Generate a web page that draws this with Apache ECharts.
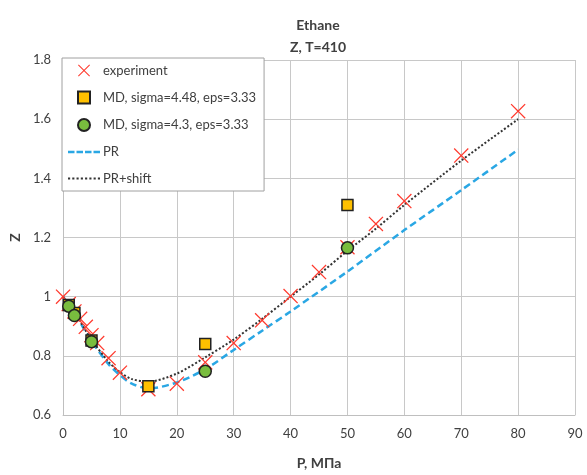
<!DOCTYPE html>
<html><head><meta charset="utf-8">
<script src="https://cdn.jsdelivr.net/npm/echarts@6/dist/echarts.min.js"></script>
<style>html,body{margin:0;padding:0;background:#fff}#c{width:587px;height:475px}</style>
</head><body><div id="c"></div>
<script>
// Data
var expP = [0, 1, 2, 3, 4, 5, 6, 8, 10, 15, 20, 25, 30, 35, 40, 45, 50, 55, 60, 70, 80];
var expZ = [1.0, 0.975, 0.95, 0.925, 0.898, 0.87, 0.843, 0.792, 0.743, 0.687, 0.706, 0.778, 0.843, 0.92, 1.002, 1.083, 1.167, 1.246, 1.323, 1.477, 1.627];
var md448P = [1, 2, 5, 15, 25, 50];
var md448Z = [0.972, 0.945, 0.852, 0.697, 0.84, 1.31];
var md43P = [1, 2, 5, 25, 50];
var md43Z = [0.968, 0.936, 0.848, 0.748, 1.165];
var prP = [0, 2, 5, 8, 10, 12, 15, 20, 25, 30, 35, 40, 50, 60, 70, 80];
var prZ = [1.0, 0.945, 0.85, 0.772, 0.735, 0.707, 0.69, 0.71, 0.755, 0.82, 0.885, 0.95, 1.085, 1.225, 1.36, 1.497];
var prsP = [0, 2, 5, 8, 10, 12, 15, 20, 25, 30, 35, 40, 45, 50, 55, 60, 70, 80];
var prsZ = [1.0, 0.947, 0.855, 0.78, 0.745, 0.722, 0.713, 0.74, 0.795, 0.855, 0.925, 1.0, 1.075, 1.155, 1.23, 1.31, 1.46, 1.6];
var xTicks = [0, 10, 20, 30, 40, 50, 60, 70, 80, 90];
var yTicks = [0.6, 0.8, 1.0, 1.2, 1.4, 1.6, 1.8];
var names = ['experiment', 'MD, sigma=4.48, eps=3.33', 'MD, sigma=4.3, eps=3.33', 'PR', 'PR+shift'];

function pairs(a, b) { return a.map(function (v, i) { return [v, b[i]]; }); }
var FONT = 'Lato';
var crossPath = 'path://M0,1.2L1.2,0L10,8.8L18.8,0L20,1.2L11.2,10L20,18.8L18.8,20L10,11.2L1.2,20L0,18.8L8.8,10Z';
var squarePath = 'path://M0,0H10V10H0Z';
var dashIcon = 'path://M0,0h6.5v2.6h-6.5Z M8.5,0h6.5v2.6h-6.5Z M17,0h6.5v2.6h-6.5Z M25.5,0h6.5v2.6h-6.5Z';
var dotIcon = 'path://M0,0h2v2h-2Z M4,0h2v2h-2Z M8,0h2v2h-2Z M12,0h2v2h-2Z M16,0h2v2h-2Z M20,0h2v2h-2Z M24,0h2v2h-2Z M28,0h2v2h-2Z';

var chart = echarts.init(document.getElementById('c'), null, { renderer: 'canvas' });
chart.setOption({
  animation: false,
  backgroundColor: '#fff',
  textStyle: { fontFamily: FONT },
  graphic: [
    { type: 'text', x: 318, y: 18, style: { text: 'Ethane', textAlign: 'center', font: 'bold 14px ' + FONT, fill: '#404040' } },
    { type: 'text', x: 318, y: 40, style: { text: 'Z, T=410', textAlign: 'center', font: 'bold 14px ' + FONT, fill: '#404040' } }
  ],
  grid: { left: 62, right: 12, top: 60, bottom: 57, containLabel: false },
  legend: {
    orient: 'vertical', left: 62, top: 58,
    backgroundColor: '#fff', borderColor: '#a0a0a0', borderWidth: 1,
    padding: [6, 8, 6, 6], itemGap: 13.5, itemWidth: 32, itemHeight: 12,
    textStyle: { fontFamily: FONT, fontSize: 13, color: '#404040', padding: [0, 0, 0, -2] },
    data: [
      { name: names[0] },
      { name: names[1] },
      { name: names[2] },
      { name: names[3], icon: dashIcon },
      { name: names[4], icon: dotIcon }
    ], z: 10
  },
  xAxis: {
    type: 'value', min: 0, max: 90, interval: 10,
    name: 'P, МПа', nameLocation: 'middle', nameGap: 41,
    nameTextStyle: { fontFamily: FONT, fontWeight: 'bold', fontSize: 14, color: '#404040' },
    axisLine: { show: true, lineStyle: { color: '#bfbfbf' } },
    axisTick: { show: false },
    axisLabel: { fontFamily: FONT, fontSize: 13, color: '#404040', margin: 12,
      formatter: function (v) { return xTicks.indexOf(v) >= 0 ? String(v) : ''; } },
    splitLine: { show: true, lineStyle: { color: '#c8c8c8', width: 1 } }
  },
  yAxis: {
    type: 'value', min: 0.6, max: 1.8, interval: 0.2,
    name: 'Z', nameLocation: 'middle', nameGap: 36, nameRotate: 90,
    nameTextStyle: { fontFamily: FONT, fontWeight: 'bold', fontSize: 14, color: '#404040' },
    axisLine: { show: true, lineStyle: { color: '#bfbfbf' } },
    axisTick: { show: false },
    axisLabel: { fontFamily: FONT, fontSize: 13, color: '#404040', margin: 12,
      formatter: function (v) { var r = Math.round(v * 10) / 10; return String(r); } },
    splitLine: { show: true, lineStyle: { color: '#c8c8c8', width: 1 } }
  },
  series: [
    { name: names[0], type: 'scatter', data: pairs(expP, expZ), symbol: crossPath, symbolSize: 15,
      itemStyle: { color: '#ff3a2e', opacity: 1 }, z: 3 },
    { name: names[1], type: 'scatter', data: pairs(md448P, md448Z), symbol: squarePath, symbolSize: 11,
      itemStyle: { color: '#ffc000', borderColor: '#222', borderWidth: 1.5, opacity: 1 }, z: 4 },
    { name: names[2], type: 'scatter', data: pairs(md43P, md43Z), symbol: 'circle', symbolSize: 12,
      itemStyle: { color: '#79bd3e', borderColor: '#222', borderWidth: 1.5, opacity: 1 }, z: 5 },
    { name: names[3], type: 'line', data: pairs(prP, prZ), symbol: 'none', smooth: 0.3,
      itemStyle: { color: '#2aa7e4' },
      lineStyle: { color: '#2aa7e4', width: 2.5, type: [7, 4] }, z: 2 },
    { name: names[4], type: 'line', data: pairs(prsP, prsZ), symbol: 'none', smooth: 0.3,
      itemStyle: { color: '#333' },
      lineStyle: { color: '#333', width: 2, type: [2, 2] }, z: 2 }
  ]
});
</script></body></html>
